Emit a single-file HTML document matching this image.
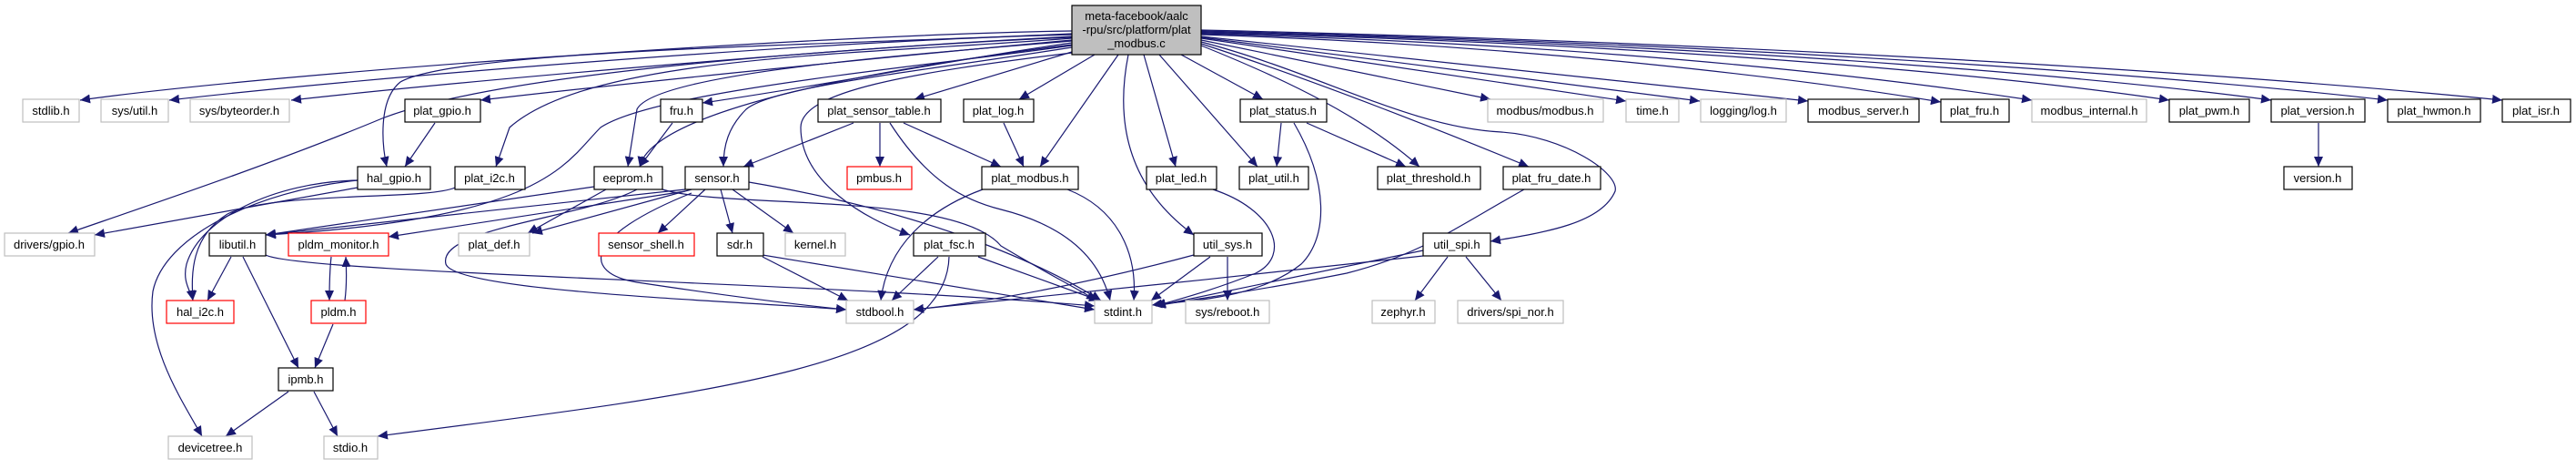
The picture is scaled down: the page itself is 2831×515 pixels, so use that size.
<!DOCTYPE html>
<html><head><meta charset="utf-8"><style>
html,body{margin:0;padding:0;background:#fff;}
svg{display:block}
text{font-family:"Liberation Sans",sans-serif;font-size:13px;text-anchor:middle;fill:#000}
.e{fill:none;stroke:#191970;stroke-width:1.2;marker-end:url(#a)}
.b{fill:#fff;stroke:#000;stroke-width:1.2}
.g{fill:#fff;stroke:#bfbfbf;stroke-width:1.2}
.r{fill:#fff;stroke:#f00;stroke-width:1.2}
</style></head><body>
<svg width="2831" height="515" viewBox="0 0 2831 515" xmlns="http://www.w3.org/2000/svg">
<defs><marker id="a" markerUnits="userSpaceOnUse" markerWidth="12" markerHeight="10" refX="11" refY="5" orient="auto"><path d="M0,0 L11,5 L0,10 Z" fill="#191970"/></marker></defs>
<g>
<!-- root edges -->
<path class="e" d="M1178,34 C900,38 300,80 88,110"/>
<path class="e" d="M1178,38 C900,45 400,85 186,110"/>
<path class="e" d="M1178,41 C950,50 500,90 320,110"/>
<path class="e" d="M1178,44 C1000,60 700,90 528,110"/>
<path class="e" d="M1178,47 C1050,65 900,95 772,113"/>
<path class="e" d="M1178,37 C900,50 500,55 440,90 C415,110 420,160 425,183"/>
<path class="e" d="M1178,42 C950,60 650,60 560,140 L545,183"/>
<path class="e" d="M1178,45 C1000,60 720,80 700,120 L690,183"/>
<path class="e" d="M1178,49 C1050,65 720,110 703,183"/>
<path class="e" d="M1178,40 C900,55 550,80 420,130 C300,180 150,230 75,256"/>
<path class="e" d="M1178,50 C1000,75 720,100 660,140 C620,180 600,240 292,258"/>
<path class="e" d="M1178,52 C1000,80 850,95 820,120 C800,140 795,160 795,183"/>
<path class="e" d="M1178,57 L1005,109"/>
<path class="e" d="M1203,60 L1120,109"/>
<path class="e" d="M1229,60 L1143,183"/>
<path class="e" d="M1178,58 C1000,80 880,100 880,140 C880,200 950,240 1000,258"/>
<path class="e" d="M1240,60 C1220,160 1260,220 1312,258"/>
<path class="e" d="M1257,60 L1292,183"/>
<path class="e" d="M1274,60 L1382,183"/>
<path class="e" d="M1298,60 L1388,109"/>
<path class="e" d="M1320,50 C1420,90 1500,130 1560,183"/>
<path class="e" d="M1320,48 C1450,90 1600,150 1680,183"/>
<path class="e" d="M1320,46 C1450,80 1550,140 1650,145 C1720,150 1780,190 1775,210 C1760,245 1700,255 1638,265"/>
<path class="e" d="M1320,44 L1638,109"/>
<path class="e" d="M1320,42 L1787,111"/>
<path class="e" d="M1320,41 L1868,111"/>
<path class="e" d="M1320,40 L1987,111"/>
<path class="e" d="M1320,38 C1700,50 2000,90 2133,112"/>
<path class="e" d="M1320,37 C1800,50 2100,90 2233,110"/>
<path class="e" d="M1320,36 C1900,50 2250,90 2384,110"/>
<path class="e" d="M1320,35 C1950,50 2350,90 2496,110"/>
<path class="e" d="M1320,34 C2000,50 2450,90 2624,110"/>
<path class="e" d="M1320,33 C2050,50 2550,90 2750,110"/>
<!-- others -->
<path class="e" d="M478,135 L445,183"/>
<path class="e" d="M739,135 L703,183"/>
<path class="e" d="M938,135 L817,183"/>
<path class="e" d="M967,135 L967,183"/>
<path class="e" d="M993,135 L1100,183"/>
<path class="e" d="M978,135 C1020,200 1060,220 1100,230 C1180,250 1210,290 1220,330"/>
<path class="e" d="M1103,135 L1125,183"/>
<path class="e" d="M1408,135 L1403,183"/>
<path class="e" d="M1436,135 L1545,183"/>
<path class="e" d="M1422,135 C1460,200 1460,260 1430,290 C1380,330 1300,330 1266,335"/>
<path class="e" d="M2548,135 L2548,183"/>
<path class="e" d="M393,206 L104,258"/>
<path class="e" d="M393,198 C300,200 220,240 205,290 C200,310 210,320 212,330"/>
<path class="e" d="M500,206 C470,220 300,210 250,235 C210,260 210,300 212,330"/>
<path class="e" d="M393,198 C280,210 180,260 168,320 C160,380 200,440 222,479"/>
<path class="e" d="M653,205 L292,258"/>
<path class="e" d="M666,208 L580,256"/>
<path class="e" d="M700,208 C640,240 480,250 490,290 C500,320 800,330 930,340"/>
<path class="e" d="M753,208 L292,258"/>
<path class="e" d="M753,210 L427,260"/>
<path class="e" d="M760,208 L585,256"/>
<path class="e" d="M775,208 L723,256"/>
<path class="e" d="M792,208 L805,256"/>
<path class="e" d="M805,208 L872,256"/>
<path class="e" d="M760,212 C640,260 640,300 700,310 C800,325 880,335 930,340"/>
<path class="e" d="M823,200 C1000,230 1130,280 1210,330"/>
<path class="e" d="M728,208 C800,230 1050,210 1100,270 C1150,300 1190,320 1205,330"/>
<path class="e" d="M254,282 L228,330"/>
<path class="e" d="M267,282 L328,404"/>
<path class="e" d="M292,280 C330,300 900,310 1203,336"/>
<path class="e" d="M364,282 C362,300 362,315 362,330"/>
<path class="e" d="M379,330 C381,315 381,300 380,282"/>
<path class="e" d="M366,356 L346,404"/>
<path class="e" d="M317,430 L248,479"/>
<path class="e" d="M345,430 L371,479"/>
<path class="e" d="M838,282 L932,330"/>
<path class="e" d="M838,280 L1203,340"/>
<path class="e" d="M1080,208 C1020,230 975,270 968,330"/>
<path class="e" d="M1173,208 C1230,230 1250,280 1246,330"/>
<path class="e" d="M1031,282 L980,330"/>
<path class="e" d="M1075,282 L1208,330"/>
<path class="e" d="M1043,282 C1040,400 800,430 415,479"/>
<path class="e" d="M1312,280 C1200,310 1100,330 1004,340"/>
<path class="e" d="M1330,282 L1265,330"/>
<path class="e" d="M1349,282 L1349,330"/>
<path class="e" d="M1333,208 C1400,230 1420,280 1380,300 C1330,320 1290,330 1270,336"/>
<path class="e" d="M1675,208 C1600,250 1560,280 1480,300 C1380,320 1300,330 1270,336"/>
<path class="e" d="M1564,275 L1270,336"/>
<path class="e" d="M1564,281 C1400,300 1100,330 1004,340"/>
<path class="e" d="M1591,282 L1555,330"/>
<path class="e" d="M1611,282 L1650,330"/>
</g>
<g>
<rect x="1178" y="6" width="142" height="54" fill="#bfbfbf" stroke="#000" stroke-width="1.2"/>
<text x="1249" y="22">meta-facebook/aalc</text><text x="1249" y="37">-rpu/src/platform/plat</text><text x="1249" y="52">_modbus.c</text>

<rect class="g" x="25" y="109" width="62" height="25"/><text x="56" y="126">stdlib.h</text>
<rect class="g" x="111" y="109" width="74" height="25"/><text x="148" y="126">sys/util.h</text>
<rect class="g" x="209" y="109" width="109" height="25"/><text x="263" y="126">sys/byteorder.h</text>
<rect class="b" x="445" y="109" width="83" height="25"/><text x="486" y="126">plat_gpio.h</text>
<rect class="b" x="726" y="109" width="46" height="25"/><text x="749" y="126">fru.h</text>
<rect class="b" x="899" y="109" width="135" height="25"/><text x="966" y="126">plat_sensor_table.h</text>
<rect class="b" x="1059" y="109" width="77" height="25"/><text x="1097" y="126">plat_log.h</text>
<rect class="b" x="1363" y="109" width="95" height="25"/><text x="1410" y="126">plat_status.h</text>
<rect class="g" x="1635" y="109" width="127" height="25"/><text x="1698" y="126">modbus/modbus.h</text>
<rect class="g" x="1787" y="109" width="58" height="25"/><text x="1816" y="126">time.h</text>
<rect class="g" x="1869" y="109" width="94" height="25"/><text x="1916" y="126">logging/log.h</text>
<rect class="b" x="1987" y="109" width="122" height="25"/><text x="2048" y="126">modbus_server.h</text>
<rect class="b" x="2133" y="109" width="75" height="25"/><text x="2170" y="126">plat_fru.h</text>
<rect class="g" x="2233" y="109" width="126" height="25"/><text x="2296" y="126">modbus_internal.h</text>
<rect class="b" x="2384" y="109" width="88" height="25"/><text x="2428" y="126">plat_pwm.h</text>
<rect class="b" x="2496" y="109" width="103" height="25"/><text x="2547" y="126">plat_version.h</text>
<rect class="b" x="2624" y="109" width="102" height="25"/><text x="2675" y="126">plat_hwmon.h</text>
<rect class="b" x="2750" y="109" width="75" height="25"/><text x="2787" y="126">plat_isr.h</text>

<rect class="b" x="393" y="183" width="80" height="25"/><text x="433" y="200">hal_gpio.h</text>
<rect class="b" x="500" y="183" width="77" height="25"/><text x="538" y="200">plat_i2c.h</text>
<rect class="b" x="653" y="183" width="75" height="25"/><text x="690" y="200">eeprom.h</text>
<rect class="b" x="753" y="183" width="70" height="25"/><text x="788" y="200">sensor.h</text>
<rect class="r" x="931" y="183" width="71" height="25"/><text x="966" y="200">pmbus.h</text>
<rect class="b" x="1079" y="183" width="106" height="25"/><text x="1132" y="200">plat_modbus.h</text>
<rect class="b" x="1260" y="183" width="77" height="25"/><text x="1298" y="200">plat_led.h</text>
<rect class="b" x="1362" y="183" width="76" height="25"/><text x="1400" y="200">plat_util.h</text>
<rect class="b" x="1514" y="183" width="113" height="25"/><text x="1570" y="200">plat_threshold.h</text>
<rect class="b" x="1652" y="183" width="107" height="25"/><text x="1705" y="200">plat_fru_date.h</text>
<rect class="b" x="2510" y="183" width="75" height="25"/><text x="2547" y="200">version.h</text>

<rect class="g" x="5" y="256" width="99" height="25"/><text x="54" y="273">drivers/gpio.h</text>
<rect class="b" x="230" y="256" width="62" height="25"/><text x="261" y="273">libutil.h</text>
<rect class="r" x="317" y="256" width="110" height="25"/><text x="372" y="273">pldm_monitor.h</text>
<rect class="g" x="504" y="256" width="78" height="25"/><text x="543" y="273">plat_def.h</text>
<rect class="r" x="658" y="256" width="105" height="25"/><text x="710" y="273">sensor_shell.h</text>
<rect class="b" x="788" y="256" width="51" height="25"/><text x="813" y="273">sdr.h</text>
<rect class="g" x="863" y="256" width="66" height="25"/><text x="896" y="273">kernel.h</text>
<rect class="b" x="1004" y="256" width="79" height="25"/><text x="1043" y="273">plat_fsc.h</text>
<rect class="b" x="1312" y="256" width="75" height="25"/><text x="1349" y="273">util_sys.h</text>
<rect class="b" x="1564" y="256" width="74" height="25"/><text x="1601" y="273">util_spi.h</text>

<rect class="r" x="183" y="330" width="74" height="25"/><text x="220" y="347">hal_i2c.h</text>
<rect class="r" x="342" y="330" width="60" height="25"/><text x="372" y="347">pldm.h</text>
<rect class="g" x="930" y="330" width="74" height="25"/><text x="967" y="347">stdbool.h</text>
<rect class="g" x="1203" y="330" width="63" height="25"/><text x="1234" y="347">stdint.h</text>
<rect class="g" x="1303" y="330" width="92" height="25"/><text x="1349" y="347">sys/reboot.h</text>
<rect class="g" x="1508" y="330" width="69" height="25"/><text x="1542" y="347">zephyr.h</text>
<rect class="g" x="1602" y="330" width="116" height="25"/><text x="1660" y="347">drivers/spi_nor.h</text>

<rect class="b" x="306" y="404" width="60" height="25"/><text x="336" y="421">ipmb.h</text>
<rect class="g" x="185" y="479" width="92" height="25"/><text x="231" y="496">devicetree.h</text>
<rect class="g" x="356" y="479" width="59" height="25"/><text x="385" y="496">stdio.h</text>
</g>
</svg>
</body></html>
